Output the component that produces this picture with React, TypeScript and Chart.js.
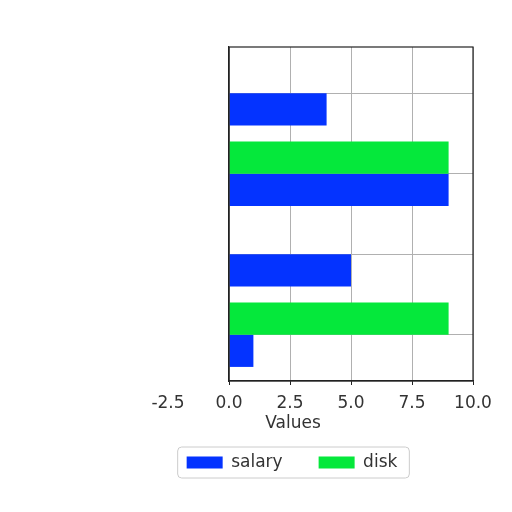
import React, { useEffect, useRef } from 'react';
import { Chart, registerables } from 'chart.js';

Chart.register(...registerables);

// Data (categories top to bottom, no visible category labels)
const categories = ['1', '2', '3', '4'];
const salaryValues = [4, 9, 5, 1];
const diskValues = [0, 9, 0, 9];
const xTickValues = [-2.5, 0, 2.5, 5, 7.5, 10];
const xTitle = 'Values';

const FONT = "'DejaVu Sans', sans-serif";
const Y_PAD = 0.575; // empty space above first / below last category, in category units

// matplotlib-like margin on the category axis instead of Chart.js' half-category offset
const categoryPad = {
  id: 'categoryPad',
  afterLayout(chart: any) {
    const s = chart.scales.y;
    s._startValue = -Y_PAD;
    s._valueRange = categories.length - 1 + 2 * Y_PAD;
  }
};

// black frame round the plot area (matplotlib spines)
const frame = {
  id: 'frame',
  afterDraw(chart: any) {
    const { ctx, chartArea } = chart;
    ctx.save();
    ctx.strokeStyle = '#222';
    ctx.lineWidth = 1.2;
    ctx.strokeRect(chartArea.left, chartArea.top, chartArea.right - chartArea.left, chartArea.bottom - chartArea.top);
    ctx.restore();
  }
};

// x axis title placed like the reference (off centre)
const axisTitle = {
  id: 'axisTitle',
  afterDraw(chart: any) {
    const { ctx, chartArea } = chart;
    ctx.save();
    ctx.fillStyle = '#333';
    ctx.font = `17px ${FONT}`;
    ctx.textAlign = 'center';
    ctx.textBaseline = 'middle';
    ctx.fillText(xTitle, chartArea.left + 64, chartArea.bottom + 43);
    ctx.restore();
  }
};

// rounded box round the legend items
const legendFrame = {
  id: 'legendFrame',
  afterDraw(chart: any) {
    const boxes = chart.legend?.legendHitBoxes;
    if (!boxes || !boxes.length) return;
    const left = Math.min(...boxes.map((b: any) => b.left)) - 9;
    const right = Math.max(...boxes.map((b: any) => b.left + b.width)) + 12;
    const top = Math.min(...boxes.map((b: any) => b.top)) - 7;
    const bottom = Math.max(...boxes.map((b: any) => b.top + b.height)) + 7;
    const { ctx } = chart;
    ctx.save();
    ctx.strokeStyle = '#cccccc';
    ctx.lineWidth = 1;
    ctx.beginPath();
    ctx.roundRect(left, top, right - left, bottom - top, 4);
    ctx.stroke();
    ctx.restore();
  }
};

const App: React.FC = () => {
  const chartRef = useRef<HTMLCanvasElement>(null);

  useEffect(() => {
    if (!chartRef.current) return;

    const chart = new Chart(chartRef.current, {
      type: 'bar',
      data: {
        labels: categories,
        datasets: [
          {
            label: 'salary',
            data: salaryValues,
            backgroundColor: '#0433ff',
            order: 1,
            categoryPercentage: 0.8,
            barPercentage: 1.0
          },
          {
            label: 'disk',
            data: diskValues,
            backgroundColor: '#05e83b',
            order: 0,
            categoryPercentage: 0.8,
            barPercentage: 1.0
          }
        ]
      },
      options: {
        indexAxis: 'y',
        animation: false,
        responsive: true,
        maintainAspectRatio: false,
        layout: {
          padding: { left: 111, right: 39, top: 47, bottom: 31 }
        },
        plugins: {
          legend: {
            position: 'bottom',
            labels: {
              boxWidth: 36,
              boxHeight: 12,
              padding: 36,
              color: '#333',
              font: { family: FONT, size: 17 },
              sort: (a: any, b: any) => a.datasetIndex - b.datasetIndex
            }
          },
          tooltip: { enabled: false }
        },
        scales: {
          x: {
            type: 'linear',
            min: 0,
            max: 10,
            afterBuildTicks: (scale: any) => {
              scale.ticks = xTickValues.map(v => ({ value: v }));
            },
            afterFit: (scale: any) => {
              scale.height = 37;
            },
            grid: {
              color: (ctx: any) => (ctx.tick && ctx.tick.value < 0 ? 'transparent' : '#b0b0b0'),
              tickColor: (ctx: any) => (ctx.tick && ctx.tick.value < 0 ? 'transparent' : '#222'),
              tickLength: 4,
              lineWidth: 1
            },
            border: { color: '#222', width: 1.2 },
            ticks: {
              autoSkip: false,
              maxRotation: 0,
              padding: 8,
              color: '#333',
              font: { family: FONT, size: 17 },
              callback: (value: any) => Number(value).toFixed(1)
            }
          },
          y: {
            type: 'category',
            offset: false,
            afterFit: (scale: any) => {
              scale.width = 118;
            },
            grid: {
              offset: false,
              color: '#b0b0b0',
              drawTicks: false,
              lineWidth: 1
            },
            border: { color: '#222', width: 1.2 },
            ticks: { display: false }
          }
        }
      },
      plugins: [categoryPad, frame, axisTitle, legendFrame]
    } as any);

    return () => {
      chart.destroy();
    };
  }, []);

  return (
    <div style={{ position: 'fixed', left: 0, top: 0, width: 512, height: 512, background: '#fff' }}>
      <canvas ref={chartRef} />
    </div>
  );
};

export default App;
